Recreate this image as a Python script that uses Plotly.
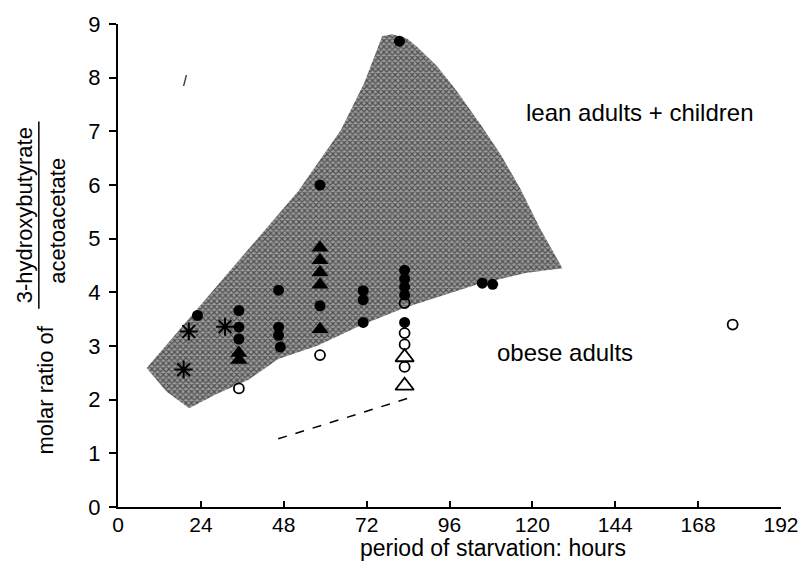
import plotly.graph_objects as go

# ---- data (hours, molar ratio) ----
filled_circle_x = [23, 35, 35, 35, 46.5, 46.5, 46.5, 47, 58.5, 58.5, 71, 71, 71,
                   83, 83, 83, 83, 83, 81.5, 105.5, 108.5]
filled_circle_y = [3.57, 3.66, 3.35, 3.13, 4.04, 3.35, 3.2, 2.98, 6.0, 3.75, 4.03, 3.86, 3.44,
                   4.41, 4.25, 4.1, 3.95, 3.44, 8.68, 4.17, 4.15]

filled_tri_x = [35, 35, 58.5, 58.5, 58.5, 58.5, 58.5]
filled_tri_y = [2.87, 2.74, 4.83, 4.6, 4.37, 4.14, 3.31]

open_circle_x = [35, 58.5, 83, 83, 83, 83, 178]
open_circle_y = [2.21, 2.83, 3.80, 3.24, 3.03, 2.61, 3.40]

open_tri_x = [83, 83]
open_tri_y = [2.79, 2.26]

asterisk_x = [20.5, 19, 31]
asterisk_y = [3.27, 2.56, 3.36]

dash_x = [46.4, 85.7]
dash_y = [1.27, 2.06]

region_x = [8.3, 52.1, 64.5, 71.3, 76.5, 79.4, 83.7, 86.5, 92.3, 98, 105.2, 110.9, 116.6,
            122.3, 128.7, 118, 103.7, 94.3, 82.8, 70.2, 57.9, 46.4, 37.8, 28.4, 20.6, 14, 8.3]
region_y = [2.59, 5.88, 7.02, 7.90, 8.77, 8.81, 8.73, 8.58, 8.22, 7.76, 7.11, 6.56, 5.92,
            5.18, 4.45, 4.36, 4.14, 3.95, 3.71, 3.38, 3.01, 2.76, 2.37, 2.10, 1.84, 2.15, 2.59]

x_ticks = [0, 24, 48, 72, 96, 120, 144, 168, 192]
y_ticks = [0, 1, 2, 3, 4, 5, 6, 7, 8, 9]

FONT = "Liberation Sans, Arial, sans-serif"

fig = go.Figure()

fig.add_trace(go.Scatter(
    x=region_x, y=region_y, mode="lines", fill="toself",
    line=dict(width=0, color="rgba(0,0,0,0)"),
    fillcolor="rgba(255,255,255,0)",
    fillpattern=dict(shape="x", fgcolor="#000", bgcolor="#9c9c9c", size=4, solidity=0.5),
    hoverinfo="skip", showlegend=False))

fig.add_trace(go.Scatter(x=dash_x, y=dash_y, mode="lines",
                         line=dict(color="black", width=1.5, dash="dash"), showlegend=False))

fig.add_trace(go.Scatter(x=filled_circle_x, y=filled_circle_y, mode="markers",
                         marker=dict(symbol="circle", size=11, color="black"), showlegend=False))
fig.add_trace(go.Scatter(x=filled_tri_x, y=filled_tri_y, mode="markers",
                         marker=dict(symbol="triangle-up", size=15, color="black"), showlegend=False))
fig.add_trace(go.Scatter(x=open_circle_x, y=open_circle_y, mode="markers",
                         marker=dict(symbol="circle-open", size=10, color="black",
                                     line=dict(width=1.8, color="black")), showlegend=False))
fig.add_trace(go.Scatter(x=open_tri_x, y=open_tri_y, mode="markers",
                         marker=dict(symbol="triangle-up-open", size=16, color="black",
                                     line=dict(width=1.8, color="black")), showlegend=False))
fig.add_trace(go.Scatter(x=asterisk_x, y=asterisk_y, mode="markers",
                         marker=dict(symbol="asterisk-open", size=15, color="black",
                                     line=dict(width=2, color="black")), showlegend=False))

# plot area in pixels: x 118..788, y 17..507
L, R, T, B = 118, 23, 17, 54
W, H = 811, 561
PW, PH = W - L - R, H - T - B


def px(xp):
    return (xp - L) / PW


def py(yp):
    return (H - B - yp) / PH


annos = [
    dict(text="lean adults + children", x=px(645), y=py(107), size=24, angle=0),
    dict(text="obese adults", x=px(570), y=py(350), size=24, angle=0),
    dict(text="period of starvation: hours", x=px(497), y=py(549), size=23, angle=0),
    dict(text="molar ratio of", x=px(45), y=py(388), size=22, angle=-90),
    dict(text="3-hydroxybutyrate", x=px(23), y=py(211), size=22, angle=-90),
    dict(text="acetoacetate", x=px(57), y=py(217), size=22, angle=-90),
    dict(text="/", x=px(186), y=py(75), size=14, angle=0),
]
for a in annos:
    fig.add_annotation(text=a["text"], x=a["x"], y=a["y"], xref="paper", yref="paper",
                       showarrow=False, textangle=a["angle"], xanchor="center", yanchor="middle",
                       font=dict(family=FONT, size=a["size"], color="black"))

# fraction bar
fig.add_shape(type="line", xref="paper", yref="paper",
              x0=px(38), x1=px(38), y0=py(116), y1=py(306),
              line=dict(color="black", width=1.5))

fig.update_layout(
    width=W, height=H, margin=dict(l=L, r=R, t=T, b=B, pad=0),
    paper_bgcolor="white", plot_bgcolor="white",
    font=dict(family=FONT, color="black"),
    xaxis=dict(range=[0, 192], tickvals=x_ticks, ticktext=[str(v) for v in x_ticks],
               showgrid=False, zeroline=False, showline=True, linecolor="black", linewidth=2,
               ticks="inside", ticklen=6, tickwidth=1.5, tickcolor="black",
               tickfont=dict(size=21, family=FONT), ticklabelstandoff=-2),
    yaxis=dict(range=[0, 9], tickvals=y_ticks, ticktext=[str(v) for v in y_ticks],
               showgrid=False, zeroline=False, showline=True, linecolor="black", linewidth=2,
               ticks="outside", ticklen=7, tickwidth=1.5, tickcolor="black",
               tickfont=dict(size=22, family=FONT), ticklabelstandoff=4),
)

fig.write_html("out.html")
